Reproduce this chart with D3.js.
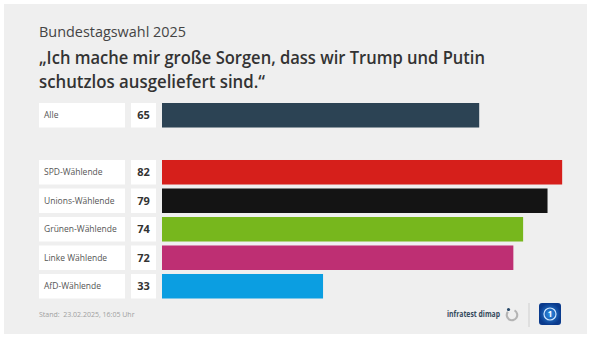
<!DOCTYPE html>
<html lang="de">
<head>
<meta charset="utf-8">
<script src="https://cdn.jsdelivr.net/npm/d3@7"></script>
<style>
  html, body { margin: 0; padding: 0; background: #fff; }
  svg { display: block; font-family: "Open Sans", "Noto Sans", sans-serif; }
</style>
</head>
<body>
<div id="wrapper"></div>
<script>
/* global d3 */
const groups = ["Alle", "SPD-Wählende", "Unions-Wählende", "Grünen-Wählende", "Linke Wählende", "AfD-Wählende"];
const values = [65, 82, 79, 74, 72, 33];
const barColors = ["#2c4354", "#d61f1b", "#141414", "#77b71d", "#be2f73", "#0b9ee1"];

const kicker = "Bundestagswahl 2025";
const titleLines = ["„Ich mache mir große Sorgen, dass wir Trump und Putin", "schutzlos ausgeliefert sind.“"];
const titleWidths = [446, 226];
const footnote = "Stand:  23.02.2025, 16:05 Uhr";

const dimensions = {
  width: 590,
  height: 338,
  margin: { top: 103, left: 162 },
};

const dataset = groups.map((g, i) => ({ group: g, value: values[i], color: barColors[i] }));

const svg = d3.select("#wrapper")
  .append("svg")
  .attr("width", dimensions.width)
  .attr("height", dimensions.height);

// grey panel
svg.append("rect")
  .attr("x", 4).attr("y", 4)
  .attr("width", 583).attr("height", 330)
  .attr("fill", "#efefef");

svg.append("text")
  .attr("x", 39).attr("y", 37)
  .attr("fill", "#444")
  .style("font-size", "14px")
  .attr("textLength", 147)
  .attr("lengthAdjust", "spacingAndGlyphs")
  .text(kicker);

// the original font is narrower, so squeeze the lines to their widths
const title = svg.append("text")
  .attr("fill", "#333")
  .style("font-size", "17.2px")
  .style("font-weight", 600);
titleLines.forEach((line, i) => {
  title.append("tspan")
    .attr("x", 39).attr("y", 64 + i * 23.6)
    .attr("textLength", titleWidths[i])
    .attr("lengthAdjust", "spacingAndGlyphs")
    .text(line);
});

// a spacer key keeps the gap between "Alle" and the groups
const yScale = d3.scaleBand()
  .domain([groups[0], "", ...groups.slice(1)])
  .range([103, 298.5])
  .paddingInner(0.14)
  .paddingOuter(0);

const xScale = d3.scaleLinear()
  .domain([0, 100])
  .range([dimensions.margin.left, dimensions.margin.left + 488]);

const rows = svg.selectAll("g.row")
  .data(dataset)
  .join("g")
  .attr("class", "row")
  .attr("transform", (d) => `translate(0, ${yScale(d.group)})`);

rows.append("rect")
  .attr("x", 39).attr("width", 86)
  .attr("height", yScale.bandwidth())
  .attr("fill", "#fff");

rows.append("rect")
  .attr("x", 131).attr("width", 25)
  .attr("height", yScale.bandwidth())
  .attr("fill", "#fff");

rows.append("text")
  .attr("x", 44)
  .attr("y", yScale.bandwidth() / 2)
  .attr("dy", "0.35em")
  .attr("fill", "#555")
  .style("font-size", "8.5px")
  .text((d) => d.group);

rows.append("text")
  .attr("x", 143.5)
  .attr("y", yScale.bandwidth() / 2)
  .attr("dy", "0.36em")
  .attr("text-anchor", "middle")
  .attr("fill", "#333")
  .style("font-size", "11px")
  .style("font-weight", 700)
  .text((d) => d.value);

rows.append("rect")
  .attr("x", xScale(0))
  .attr("width", (d) => xScale(d.value) - xScale(0))
  .attr("height", yScale.bandwidth())
  .attr("fill", (d) => d.color);

// footer
svg.append("text")
  .attr("x", 39).attr("y", 317)
  .attr("fill", "#a0a0a0")
  .style("font-size", "7px")
  .attr("xml:space", "preserve")
  .text(footnote);

svg.append("text")
  .attr("x", 500).attr("y", 317)
  .attr("text-anchor", "end")
  .attr("fill", "#34495c")
  .style("font-size", "8px")
  .style("font-weight", 700)
  .attr("textLength", 53)
  .attr("lengthAdjust", "spacingAndGlyphs")
  .text("infratest dimap");

const arc = d3.arc().innerRadius(4.2).outerRadius(6.3);
svg.append("path")
  .attr("transform", "translate(512, 315)")
  .attr("d", arc({ startAngle: 0.5, endAngle: 2 * Math.PI - 0.9 }))
  .attr("fill", "#b4b4b4");
svg.append("circle")
  .attr("cx", 508.5).attr("cy", 309.5).attr("r", 1.6)
  .attr("fill", "#2a4a6a");

svg.append("line")
  .attr("x1", 529).attr("x2", 529)
  .attr("y1", 303).attr("y2", 327)
  .attr("stroke", "#cfcfcf")
  .attr("stroke-width", 1);

const defs = svg.append("defs");
const grad = defs.append("radialGradient").attr("id", "ard");
grad.append("stop").attr("offset", "0%").attr("stop-color", "#2f8fe6");
grad.append("stop").attr("offset", "100%").attr("stop-color", "#0a3a8c");

svg.append("rect")
  .attr("x", 539).attr("y", 303)
  .attr("width", 22).attr("height", 22)
  .attr("rx", 3)
  .attr("fill", "url(#ard)");
svg.append("circle")
  .attr("cx", 550).attr("cy", 314).attr("r", 6)
  .attr("fill", "none")
  .attr("stroke", "#cfe6ff")
  .attr("stroke-width", 1.2);
svg.append("text")
  .attr("x", 550).attr("y", 314)
  .attr("dy", "0.35em")
  .attr("text-anchor", "middle")
  .attr("fill", "#fff")
  .style("font-size", "8px")
  .style("font-weight", 700)
  .text("1");
</script>
</body>
</html>
